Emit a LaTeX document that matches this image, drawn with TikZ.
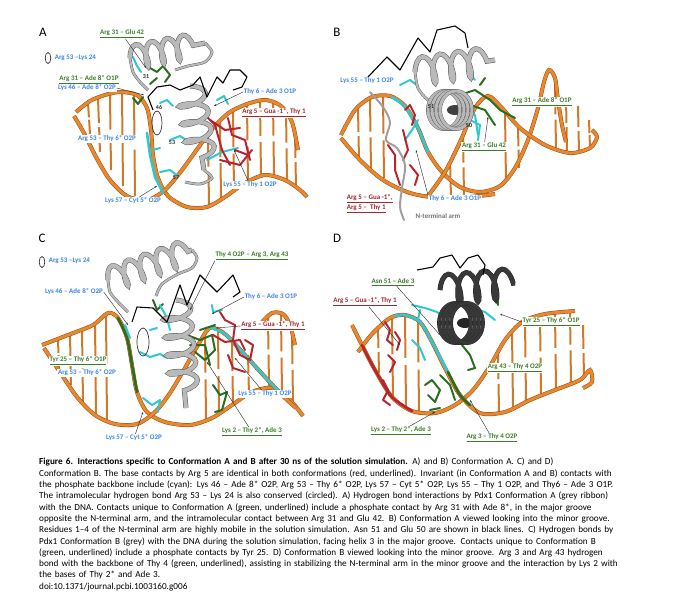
\documentclass[tikz,border=0pt]{standalone}
\usepackage{fontspec}
\setmainfont{Carlito}
\usetikzlibrary{decorations.pathmorphing,arrows.meta,calc}
\definecolor{dnaL}{RGB}{232,135,45}
\definecolor{dnaD}{RGB}{150,80,25}
\definecolor{cyanS}{RGB}{45,200,210}
\definecolor{greenS}{RGB}{40,110,30}
\definecolor{redS}{RGB}{185,35,45}
\definecolor{blueT}{RGB}{60,135,230}
\definecolor{greenT}{RGB}{60,125,40}
\definecolor{redT}{RGB}{160,40,45}
\newcommand{\capline}[1]{\hbox to\hsize{#1}}
\newcommand{\caplast}[1]{\hbox to\hsize{#1\hfil}}
\tikzset{
  lbl/.style = {inner sep=0.6pt, fill=white, font=\fontsize{7}{8}\selectfont\bfseries},
  lbl_b/.style = {lbl, text=blueT},
  lbl_g/.style = {lbl, text=greenT},
  lbl_r/.style = {lbl, text=redT},
  lbl_k/.style = {inner sep=0.5pt, text=black!85, font=\fontsize{6}{7}\selectfont\bfseries},
  panel/.style = {inner sep=0pt, font=\fontsize{13}{15}\selectfont},
  dna_s/.style = {draw=dnaD, double=dnaL, double distance=3pt, line width=0.5pt},
  dna_r/.style = {draw=dnaL!90!black, line width=2pt},
  helix_g/.style = {draw=black!65, double=gray!55, double distance=4pt, line width=0.5pt,
    decorate, decoration={coil, aspect=0.35, segment length=16pt, amplitude=12pt}},
  loop_g/.style = {draw=black!65, double=gray!55, double distance=2pt, line width=0.4pt},
  arm_g/.style = {draw=gray!75, line width=2pt, line cap=round},
  trace_k/.style = {draw=black, line width=1.1pt, line join=round},
  stick_c/.style = {draw=cyanS, line width=2pt, line cap=round, line join=round},
  stick_g/.style = {draw=greenS, line width=2pt, line cap=round, line join=round},
  stick_r/.style = {draw=redS, line width=2pt, line cap=round, line join=round},
  ring_k/.style = {draw=black!80, line width=0.7pt},
  ptr/.style = {draw=black!80, line width=0.45pt, -{Stealth[length=2.4pt,width=1.8pt]}}
}
\begin{document}
\begin{tikzpicture}[x=1pt, y=-1pt]
\useasboundingbox (0,0) rectangle (691,600);

\node[panel] (pA) at (43,32) {A};
\draw[ring_k] (48,58) ellipse [x radius=2.8, y radius=5.5];
\foreach \xa/\ya/\xb/\yb in {88/103/90/134, 98/98/100/152, 110/95/111/170, 122/93/123/186, 134/95/135/196, 208/134/209/205, 220/122/221/198, 233/111/234/190, 247/104/248/183, 260/101/261/177, 273/102/274/175, 286/109/287/182, 295/132/296/188}
  {\draw[dna_r] (\xa,\ya) -- ($(\xa,\ya)!0.46!(\xb,\yb)$);
   \draw[dna_r] (\xb,\yb) -- ($(\xb,\yb)!0.46!(\xa,\ya)$);}
\draw[dna_s] plot[smooth] coordinates {(76,112) (90,101) (105,95) (120,92) (137,95) (147,108) (151,130) (153,155) (158,178) (168,196) (187,207) (207,207) (225,197) (245,183) (265,175) (285,180) (300,190) (307,197)};
\draw[dna_s] plot[smooth] coordinates {(74,116) (84,133) (96,157) (110,180) (127,196) (147,200) (165,190) (182,170) (198,148) (213,128) (230,112) (250,103) (266,100) (281,106) (292,122) (298,150)};
\draw[stick_c, line width=2.6pt] (147,133) -- (150,155) -- (155,177) -- (163,193);
\draw[stick_c] (160,103) -- (167,100) -- (173,106);
\draw[stick_c] (170,140) -- (180,136) -- (186,140);
\draw[stick_c] (207,160) -- (222,152) -- (238,148);
\draw[stick_c] (153,150) -- (160,148);
\draw[stick_c] (217,100) -- (224,96) -- (228,104);
\draw[stick_c] (133,57) -- (137,66) -- (141,72);
\draw[stick_c] (160,172) -- (170,170) -- (178,176);
\draw[stick_g] (150,68) -- (157,72) -- (163,66) -- (170,75) -- (165,82);
\draw[stick_g] (157,78) -- (150,84);
\draw[stick_g] (133,98) -- (138,104) -- (143,97);
\draw[stick_r] (205,115) -- (215,125) -- (222,150) -- (230,165);
\draw[stick_r] (210,120) -- (225,130) -- (240,128);
\draw[stick_r] (228,118) -- (232,135) -- (245,140) -- (250,160);
\draw[stick_r] (235,150) -- (248,155);
\draw[stick_r] (220,160) -- (240,165) -- (252,150);
\draw[helix_g] (130,58) -- (205,43);
\draw[loop_g] plot[smooth] coordinates {(205,43) (212,52) (205,62) (188,66) (175,70)};
\draw[loop_g] plot[smooth] coordinates {(130,58) (133,72) (140,82) (148,90)};
\draw[helix_g, decoration={segment length=18pt, amplitude=14pt}] (190,86) -- (204,170);
\draw[loop_g] plot[smooth] coordinates {(204,170) (212,178) (200,184) (185,182)};
\draw[trace_k] (153,110) -- (148,97) -- (157,87) -- (170,85) -- (180,90) -- (193,85) -- (200,77) -- (207,97) -- (217,77) -- (223,83) -- (230,70) -- (240,70) -- (247,77) -- (242,87) -- (233,90);
\draw[ring_k] (157,123) ellipse [x radius=5, y radius=12];
\node[lbl_k] (a31) at (146,77) {31};
\node[lbl_k] (a46) at (159,107) {46};
\node[lbl_k] (a53) at (172,143) {53};
\node[lbl_k] (a57) at (176,178) {57};
\node[lbl_b, anchor=west] (aLeg) at (54,58) {Arg 53 --Lys 24};
\node[lbl_g] (aGlu) at (122,34) {\underline{Arg 31 -- Glu 42}};
\node[lbl_g] (aAde) at (89,80) {\underline{Arg 31 -- Ade 8* O1P}};
\node[lbl_b] (aLys46) at (87,88) {Lys 46 -- Ade 8* O2P};
\node[lbl_b] (aArg53) at (107,139) {Arg 53 -- Thy 6* O2P};
\node[lbl_b] (aLys57) at (133,201) {Lys 57 -- Cyt 5* O2P};
\node[lbl_b] (aThy6) at (270,92) {Thy 6 -- Ade 3 O1P};
\node[lbl_r] (aArg5) at (274,113) {\underline{Arg 5 -- Gua -1*, Thy 1}};
\node[lbl_b] (aLys55) at (250,185) {Lys 55 -- Thy 1 O2P};
\coordinate (aGluT) at (146,68);
\coordinate (aLys46T) at (144,95);
\coordinate (aThy6T) at (214,106);
\coordinate (aLys55T) at (234,150);
\coordinate (aLys57T) at (157,186);
\draw[ptr] (aGlu) -- (aGluT);
\draw[ptr] (aLys46.east) -- (aLys46T);
\draw[ptr] (aThy6.west) -- (aThy6T);
\draw[ptr] (aLys55) -- (aLys55T);
\draw[ptr] (aLys57) -- (aLys57T);

\node[panel] (pB) at (337,32) {B};
\foreach \xa/\ya/\xb/\yb in {358/108/359/160, 370/99/371/170, 383/96/384/178, 505/112/506/182, 518/128/519/168, 555/84/556/150, 566/98/567/152, 578/106/579/152, 589/120/590/148, 450/160/451/197, 463/134/464/196}
  {\draw[dna_r] (\xa,\ya) -- ($(\xa,\ya)!0.46!(\xb,\yb)$);
   \draw[dna_r] (\xb,\yb) -- ($(\xb,\yb)!0.46!(\xa,\ya)$);}
\draw[dna_s] plot[smooth] coordinates {(341,135) (355,110) (372,97) (390,96) (405,106) (418,128) (428,152) (442,172) (460,187) (480,192) (500,186) (515,168) (528,140) (538,108) (544,82) (549,70) (555,78) (558,100) (562,125) (566,142)};
\draw[dna_s] plot[smooth] coordinates {(341,138) (360,160) (383,180) (410,193) (440,198) (470,197) (495,194)};
\draw[dna_s] plot[smooth] coordinates {(428,196) (445,172) (460,142) (475,108) (488,96) (502,108) (520,128) (545,145) (570,153) (590,148) (597,137) (592,130)};
\draw[stick_c, line width=2.6pt] (392,97) -- (405,106) -- (418,128) -- (428,152);
\draw[stick_c] (400,85) -- (410,80) -- (418,86);
\draw[stick_c] (470,60) -- (468,72) -- (475,80);
\draw[stick_c] (455,95) -- (465,105) -- (475,115) -- (478,135);
\draw[stick_c] (470,120) -- (480,125) -- (478,140);
\draw[stick_c] (405,140) -- (412,130) -- (418,120);
\draw[stick_g] (460,95) -- (475,90) -- (490,100) -- (500,110) -- (515,118);
\draw[stick_g] (470,105) -- (485,110) -- (495,125);
\draw[stick_g] (480,85) -- (485,78);
\draw[stick_r] (405,110) -- (410,105) -- (415,115) -- (412,125);
\draw[stick_r] (403,130) -- (408,150) -- (403,160);
\draw[stick_r] (388,145) -- (395,155) -- (395,170) -- (400,185);
\draw[stick_r] (410,165) -- (418,175) -- (415,185);
\draw[arm_g] plot[smooth] coordinates {(370,92) (383,107) (390,122) (386,140) (397,148) (405,165) (402,188) (400,207) (404,220)};
\draw[helix_g, decoration={segment length=18pt, amplitude=14pt}] (415,72) -- (495,60);
\draw[loop_g] plot[smooth] coordinates {(415,72) (418,88) (428,100) (440,104)};
\fill[black!75] (455,110) ellipse [x radius=8, y radius=5];
\foreach \i in {0,...,3}
  \draw[loop_g, double distance=3pt] (444+4*\i,110) ellipse [x radius=16, y radius=19];
\draw[trace_k] (368,77) -- (387,57) -- (400,70) -- (418,38) -- (430,52) -- (437,30) -- (455,26) -- (465,33) -- (468,48);
\node[lbl_k] (b51) at (431,107) {51};
\node[lbl_k] (b50) at (469,126) {50};
\node[lbl_b] (bLys55) at (367,81) {Lys 55 -- Thy 1 O2P};
\node[lbl_g] (bAde) at (542,102) {\underline{Arg 31 -- Ade 8* O1P}};
\node[lbl_g] (bGlu) at (484,147) {\underline{Arg 31 -- Glu 42}};
\node[lbl_r, anchor=west] (bArg5a) at (346,199) {\underline{Arg 5 -- Gua -1*,}};
\node[lbl_r, anchor=west] (bArg5b) at (346,209) {\underline{Arg 5 -- \ Thy 1}};
\node[lbl_b] (bThy6) at (455,199) {Thy 6 -- Ade 3 O1P};
\node[lbl, text=gray!90!black] (bArm) at (438,216) {N-terminal arm};
\coordinate (bGluT) at (488,117);
\coordinate (bThy6T) at (416,150);
\draw[ptr] (bGlu) -- (bGluT);
\draw[ptr] (bThy6.north west) -- (bThy6T);

\node[panel] (pC) at (42,238) {C};
\draw[ring_k] (42,262) ellipse [x radius=2.8, y radius=5.5];
\foreach \xa/\ya/\xb/\yb in {58/340/59/368, 70/334/71/385, 82/329/83/402, 95/322/96/415, 106/315/107/421, 205/333/206/419, 218/331/219/414, 232/342/233/405, 248/355/249/395, 268/318/269/386, 281/315/282/394, 292/330/293/404}
  {\draw[dna_r] (\xa,\ya) -- ($(\xa,\ya)!0.46!(\xb,\yb)$);
   \draw[dna_r] (\xb,\yb) -- ($(\xb,\yb)!0.46!(\xa,\ya)$);}
\draw[dna_s] plot[smooth] coordinates {(42,345) (68,335) (93,325) (108,313) (118,318) (127,338) (132,365) (137,392) (147,412) (165,422) (190,425) (212,418) (232,405) (252,392) (272,388) (290,400) (303,416)};
\draw[dna_s] plot[smooth] coordinates {(44,348) (60,372) (77,397) (95,415) (115,424) (137,424) (155,412) (170,393) (185,368) (198,345) (210,328) (225,334) (245,355) (265,377) (283,396) (296,408)};
\draw[dna_s] plot[smooth] coordinates {(262,322) (272,313) (283,314) (290,325) (295,345)};
\draw[stick_c, line width=2.6pt] plot[smooth] coordinates {(210,328) (225,334) (245,355) (265,377) (283,396)};
\draw[stick_g, line width=2.6pt] plot[smooth] coordinates {(118,318) (127,338) (132,365) (137,392)};
\draw[stick_g] (187,335) -- (200,340) -- (212,335) -- (215,350) -- (205,360) -- (195,352);
\draw[stick_g] (190,345) -- (205,345) -- (210,365);
\draw[stick_g] (200,330) -- (215,325);
\draw[stick_g] (153,300) -- (157,310) -- (163,304);
\draw[stick_g] (213,385) -- (220,395) -- (227,392) -- (222,410) -- (215,412);
\draw[stick_c] (125,325) -- (130,338);
\draw[stick_c] (140,352) -- (150,357) -- (160,354) -- (167,358);
\draw[stick_c] (143,398) -- (152,405) -- (160,400) -- (158,412);
\draw[stick_c] (160,305) -- (167,318) -- (170,330);
\draw[stick_c] (212,305) -- (213,312) -- (222,310);
\draw[stick_c] (150,330) -- (157,328);
\draw[stick_r] (220,312) -- (225,320) -- (235,325) -- (233,340) -- (240,355) -- (250,360);
\draw[stick_r] (213,335) -- (225,342) -- (240,340) -- (245,350);
\draw[stick_r] (228,355) -- (233,368) -- (245,372);
\draw[stick_r] (245,340) -- (253,345) -- (250,360);
\draw[helix_g, decoration={segment length=17pt}] (108,280) -- (192,250);
\draw[loop_g] plot[smooth] coordinates {(108,280) (110,292) (118,302) (128,312)};
\draw[loop_g] plot[smooth] coordinates {(192,250) (197,258) (192,268) (178,274) (162,284) (156,296)};
\draw[helix_g, decoration={segment length=18pt, amplitude=14pt}] (176,300) -- (186,408);
\draw[trace_k] (132,322) -- (137,307) -- (153,308) -- (167,322) -- (180,285) -- (187,305) -- (200,275) -- (217,292) -- (233,275) -- (240,292) -- (233,297);
\draw[ring_k] (143,342) ellipse [x radius=6, y radius=14];
\node[lbl_b, anchor=west] (cLeg) at (48,261) {Arg 53 --Lys 24};
\node[lbl_b] (cLys46) at (74,292) {Lys 46 -- Ade 8* O2P};
\node[lbl_g] (cThy4) at (252,256) {\underline{Thy 4 O2P -- Arg 3, Arg 43}};
\node[lbl_b] (cThy6) at (271,297) {Thy 6 -- Ade 3 O1P};
\node[lbl_r] (cArg5) at (273,326) {\underline{Arg 5 -- Gua -1*, Thy 1}};
\node[lbl_g] (cTyr) at (78,361) {\underline{Tyr 25 -- Thy 6* O1P}};
\node[lbl_b] (cArg53) at (87,373) {Arg 53 -- Thy 6* O2P};
\node[lbl_b] (cLys55) at (265,394) {Lys 55 -- Thy 1 O2P};
\node[lbl_b] (cLys57) at (134,438) {Lys 57 -- Cyt 5* O2P};
\node[lbl_g] (cLys2) at (252,432) {\underline{Lys 2 -- Thy 2*, Ade 3}};
\coordinate (cLys46T) at (128,325);
\coordinate (cThy4T) at (190,310);
\coordinate (cThy6T) at (212,314);
\coordinate (cArg5T) at (216,328);
\coordinate (cLys55T) at (235,358);
\coordinate (cLys57T) at (143,412);
\coordinate (cLys2T) at (207,362);
\draw[ptr] (cLys46.east) -- (cLys46T);
\draw[ptr] (cThy4.south west) -- (cThy4T);
\draw[ptr] (cThy6.west) -- (cThy6T);
\draw[ptr] (cArg5.west) -- (cArg5T);
\draw[ptr] (cLys55) -- (cLys55T);
\draw[ptr] (cLys57) -- (cLys57T);
\draw[ptr] (cLys2) -- (cLys2T);

\node[panel] (pD) at (337,238) {D};
\foreach \xa/\ya/\xb/\yb in {378/327/379/373, 392/319/393/396, 405/316/406/407, 418/321/419/411, 498/351/499/412, 512/332/513/407, 525/321/526/400, 540/315/541/394, 555/313/556/389, 570/312/571/383, 583/325/584/377}
  {\draw[dna_r] (\xa,\ya) -- ($(\xa,\ya)!0.46!(\xb,\yb)$);
   \draw[dna_r] (\xb,\yb) -- ($(\xb,\yb)!0.46!(\xa,\ya)$);}
\draw[dna_s] plot[smooth] coordinates {(352,325) (362,345) (375,370) (392,397) (412,411) (435,413) (455,405) (473,390) (490,366) (505,340) (522,322) (545,314) (575,311)};
\draw[dna_s] plot[smooth] coordinates {(358,352) (372,334) (390,318) (405,315) (420,322) (432,342) (445,368) (460,395) (480,413) (505,412) (530,400) (555,390) (580,380) (590,370) (592,382) (583,388)};
\draw[stick_r, line width=2.6pt] plot[smooth] coordinates {(362,345) (375,370) (392,397) (412,411)};
\draw[stick_c, line width=2.6pt] plot[smooth] coordinates {(395,316) (405,315) (420,322) (432,342) (448,372)};
\draw[stick_g, line width=2.6pt] plot[smooth] coordinates {(448,372) (460,395) (470,405)};
\draw[stick_r] (385,322) -- (390,330) -- (387,340) -- (393,345);
\draw[stick_r] (388,355) -- (395,362) -- (390,372);
\draw[stick_r] (383,380) -- (388,390) -- (383,400) -- (390,405);
\draw[stick_r] (395,332) -- (400,340) -- (397,350);
\draw[stick_c] (412,305) -- (425,308) -- (437,312) -- (445,318);
\draw[stick_c] (420,310) -- (418,320);
\draw[stick_c] (472,308) -- (485,312) -- (495,320);
\draw[stick_c] (412,340) -- (420,348) -- (425,360);
\draw[stick_g] (425,385) -- (432,380) -- (440,390) -- (435,402) -- (428,395);
\draw[stick_g] (440,375) -- (450,385) -- (455,400);
\draw[stick_g] (462,345) -- (470,355) -- (475,368) -- (468,370);
\draw[stick_g] (497,292) -- (498,305);
\draw[stick_g] (430,410) -- (440,408);
\draw[helix_g, draw=black!85, double=gray!45!black, decoration={segment length=18pt, amplitude=15pt}] (440,290) -- (515,283);
\fill[black!85] (465,323) ellipse [x radius=8, y radius=5];
\foreach \i in {0,...,3}
  \draw[loop_g, draw=black!85, double=gray!45!black, double distance=3pt] (455+4*\i,323) ellipse [x radius=16, y radius=20];
\draw[trace_k] (417,270) -- (433,267) -- (440,258) -- (452,255) -- (460,268) -- (468,258) -- (478,255) -- (485,265) -- (483,275);
\node[lbl_g] (dAsn) at (393,282) {\underline{Asn 51 -- Ade 3}};
\node[lbl_r] (dArg5) at (365,302) {\underline{Arg 5 -- Gua -1*, Thy 1}};
\node[lbl_g] (dTyr) at (551,322) {\underline{Tyr 25 -- Thy 6* O1P}};
\node[lbl_g] (dArg43) at (515,368) {\underline{Arg 43 -- Thy 4 O2P}};
\node[lbl_g] (dLys2) at (401,431) {\underline{Lys 2 -- Thy 2*, Ade 3}};
\node[lbl_g] (dArg3) at (492,438) {\underline{Arg 3 -- Thy 4 O2P}};
\coordinate (dAsnT) at (440,335);
\coordinate (dArg5T) at (400,345);
\coordinate (dTyrT) at (500,314);
\coordinate (dLys2T) at (435,412);
\coordinate (dArg3T) at (470,400);
\draw[ptr] (dAsn) -- (dAsnT);
\draw[ptr] (dArg5) -- (dArg5T);
\draw[ptr] (dTyr.west) -- (dTyrT);
\draw[ptr] (dLys2) -- (dLys2T);
\draw[ptr] (dArg3) -- (dArg3T);

\node[anchor=north west, inner sep=0pt, text width=622pt, font=\fontsize{9.2}{11.3}\selectfont] (cap) at (39,458) {%
\capline{{\bfseries Figure 6. Interactions specific to Conformation A and B after 30 ns of the solution simulation.} A) and B) Conformation A. C) and D)}
\capline{Conformation B. The base contacts by Arg 5 are identical in both conformations (red, underlined). Invariant (in Conformation A and B) contacts with}
\capline{the phosphate backbone include (cyan): Lys 46 -- Ade 8* O2P, Arg 53 -- Thy 6* O2P, Lys 57 -- Cyt 5* O2P, Lys 55 -- Thy 1 O2P, and Thy6 -- Ade 3 O1P.}
\capline{The intramolecular hydrogen bond Arg 53 -- Lys 24 is also conserved (circled). A) Hydrogen bond interactions by Pdx1 Conformation A (grey ribbon)}
\capline{with the DNA. Contacts unique to Conformation A (green, underlined) include a phosphate contact by Arg 31 with Ade 8*, in the major groove}
\capline{opposite the N-terminal arm, and the intramolecular contact between Arg 31 and Glu 42. B) Conformation A viewed looking into the minor groove.}
\capline{Residues 1--4 of the N-terminal arm are highly mobile in the solution simulation. Asn 51 and Glu 50 are shown in black lines. C) Hydrogen bonds by}
\capline{Pdx1 Conformation B (grey) with the DNA during the solution simulation, facing helix 3 in the major groove. Contacts unique to Conformation B}
\capline{(green, underlined) include a phosphate contacts by Tyr 25. D) Conformation B viewed looking into the minor groove. Arg 3 and Arg 43 hydrogen}
\capline{bond with the backbone of Thy 4 (green, underlined), assisting in stabilizing the N-terminal arm in the minor groove and the interaction by Lys 2 with}
\caplast{the bases of Thy 2* and Ade 3.}
\caplast{doi:10.1371/journal.pcbi.1003160.g006}};
\end{tikzpicture}
\end{document}
